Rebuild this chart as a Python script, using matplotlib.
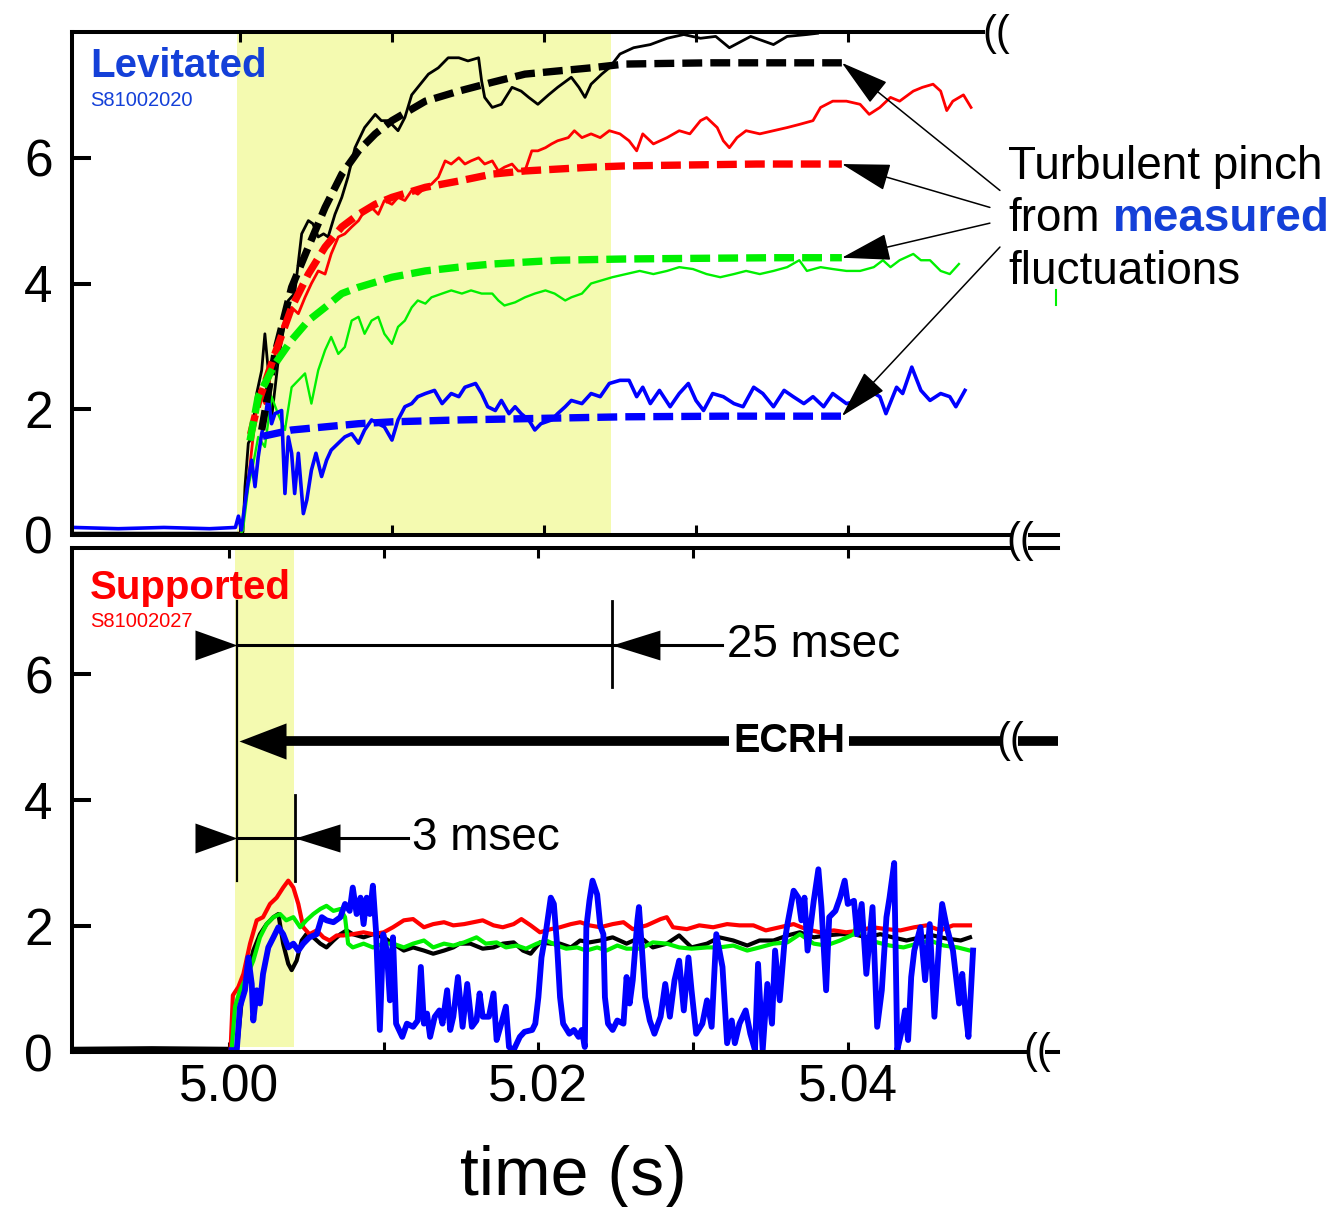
import numpy as np
import matplotlib
matplotlib.use('Agg')
import matplotlib.pyplot as plt
from matplotlib.lines import Line2D
from matplotlib.patches import Rectangle

plt.rcParams['font.family'] = 'Liberation Sans'

# ---- data (time in ms after 5.000 s, signal value) ----
# Levitated shot S81002020 (top panel), solid = measured, dashed = pinch model
lev_black = [(-10.9, 0.03), (-5, 0.03), (0.0, 0.03), (0.2, 0.05), (0.33, 0.77), (0.55, 1.46), (0.77, 1.56),
             (1.1, 2.25), (1.43, 2.62), (1.64, 3.2), (1.86, 2.62), (2.1, 1.9), (2.52, 2.78), (2.96, 3.41),
             (3.18, 3.73), (3.6, 3.84), (4.06, 4.79), (4.5, 5.0), (4.8, 4.95), (5.15, 4.74), (5.5, 4.79),
             (5.8, 4.74), (6.25, 5.1), (6.7, 5.37), (7.1, 5.69), (7.57, 6.16), (8.2, 6.48), (8.9, 6.69),
             (9.3, 6.59), (9.76, 6.59), (10.4, 6.43), (10.85, 6.64), (11.3, 7.0), (11.7, 7.12), (12.4, 7.33),
             (13.05, 7.43), (13.7, 7.59), (14.4, 7.59), (15.0, 7.54), (15.7, 7.59), (15.9, 7.22), (16.1, 6.96),
             (16.6, 6.8), (17.2, 6.85), (17.9, 7.12), (18.5, 7.06), (19.0, 6.96), (19.6, 6.85), (20.3, 7.0),
             (20.9, 7.12), (21.8, 7.28), (22.3, 7.12), (22.7, 6.96), (23.1, 7.17), (23.8, 7.33), (24.3, 7.43),
             (25.0, 7.65), (25.9, 7.75), (27.0, 7.8), (28.1, 7.9), (29.2, 7.96), (30.3, 7.9), (31.3, 7.93),
             (32.2, 7.75), (33.6, 7.93), (35.1, 7.8), (36.0, 7.93), (37.3, 7.96), (38.0, 7.98)]
lev_red = [(-10.9, 0.0), (-5, 0.01), (0.0, 0.0), (0.1, 0.05), (0.55, 0.87), (0.99, 1.83), (1.3, 2.3), (1.64, 2.09),
           (2.08, 2.62), (2.5, 3.1), (2.96, 3.41), (3.4, 3.62), (3.84, 3.52), (4.28, 3.78), (4.7, 4.0), (5.15, 4.2),
           (5.6, 4.15), (6.0, 4.47), (6.47, 4.74), (6.9, 4.79), (7.35, 4.9), (7.8, 5.0), (8.2, 5.16), (8.66, 5.21),
           (9.1, 5.1), (9.5, 5.32), (10.0, 5.26), (10.4, 5.37), (10.85, 5.32), (11.3, 5.48), (11.7, 5.42),
           (12.2, 5.53), (12.6, 5.58), (13.05, 5.69), (13.5, 5.95), (13.9, 5.9), (14.4, 6.0), (14.8, 5.9),
           (15.2, 5.95), (15.7, 6.0), (16.1, 5.9), (16.6, 5.95), (17.0, 5.79), (17.4, 5.85), (17.9, 5.9),
           (18.3, 5.79), (18.75, 5.79), (19.2, 6.11), (19.6, 6.11), (20.1, 6.16), (20.5, 6.22), (20.9, 6.27),
           (21.6, 6.32), (22.0, 6.43), (22.5, 6.32), (23.1, 6.38), (23.7, 6.32), (24.3, 6.43), (25.0, 6.38),
           (25.6, 6.27), (26.1, 6.11), (26.5, 6.38), (27.2, 6.22), (28.1, 6.32), (28.9, 6.43), (29.6, 6.38),
           (30.3, 6.59), (30.7, 6.64), (31.4, 6.48), (31.8, 6.27), (32.2, 6.16), (32.7, 6.32), (33.3, 6.43),
           (34.2, 6.38), (35.1, 6.43), (36.0, 6.48), (36.8, 6.53), (37.7, 6.59), (38.2, 6.8), (39.0, 6.9),
           (39.9, 6.9), (40.8, 6.85), (41.4, 6.69), (42.1, 6.8), (42.8, 6.96), (43.4, 6.9), (44.3, 7.06),
           (44.9, 7.12), (45.6, 7.17), (46.1, 7.06), (46.5, 6.75), (46.9, 6.9), (47.6, 7.0), (48.1, 6.8)]
lev_green = [(-10.9, 0.0), (0.0, 0.0), (0.2, 0.08), (0.55, 0.77), (0.88, 1.14), (1.2, 1.56), (1.64, 1.4),
             (2.08, 2.2), (2.5, 1.93), (2.96, 1.67), (3.4, 2.35), (3.84, 2.46), (4.28, 2.57), (4.7, 2.09),
             (5.15, 2.62), (5.6, 2.94), (6.0, 3.15), (6.47, 2.88), (6.9, 2.99), (7.35, 3.41), (7.8, 3.47),
             (8.2, 3.2), (8.66, 3.41), (9.1, 3.47), (9.5, 3.2), (10.0, 3.04), (10.4, 3.31), (10.85, 3.41),
             (11.3, 3.62), (11.7, 3.73), (12.2, 3.68), (12.6, 3.78), (13.3, 3.84), (13.9, 3.89), (14.6, 3.84),
             (15.2, 3.89), (15.9, 3.84), (16.6, 3.84), (17.0, 3.73), (17.4, 3.65), (18.1, 3.7), (18.75, 3.78),
             (19.4, 3.84), (20.1, 3.89), (20.7, 3.84), (21.4, 3.73), (21.8, 3.78), (22.5, 3.84), (23.1, 4.0),
             (23.8, 4.05), (24.5, 4.1), (25.4, 4.15), (26.3, 4.2), (27.2, 4.15), (28.1, 4.2), (28.9, 4.26),
             (29.8, 4.23), (30.7, 4.15), (31.6, 4.1), (32.5, 4.15), (33.3, 4.2), (34.2, 4.15), (35.1, 4.2),
             (36.0, 4.26), (36.8, 4.37), (37.3, 4.2), (38.2, 4.26), (39.0, 4.23), (39.9, 4.2), (40.8, 4.2),
             (41.7, 4.26), (42.3, 4.37), (42.8, 4.26), (43.4, 4.37), (44.3, 4.47), (44.8, 4.37), (45.4, 4.37),
             (46.1, 4.2), (46.7, 4.15), (47.3, 4.31)]
lev_blue = [(-10.9, 0.12), (-8, 0.1), (-5, 0.12), (-2, 0.1), (-0.3, 0.12), (-0.1, 0.3), (0.1, 0.08), (0.33, 0.5),
            (0.55, 0.87), (0.77, 1.19), (0.99, 0.77), (1.2, 1.24), (1.43, 1.61), (1.64, 1.83), (1.86, 2.2),
            (2.08, 1.77), (2.3, 1.93), (2.74, 1.98), (2.96, 0.66), (3.18, 1.56), (3.4, 1.3), (3.6, 0.66),
            (3.84, 1.3), (4.17, 0.34), (4.4, 0.56), (4.7, 1.03), (5.0, 1.3), (5.37, 0.93), (5.7, 1.19),
            (6.0, 1.35), (6.47, 1.46), (6.9, 1.56), (7.35, 1.61), (7.8, 1.46), (8.2, 1.67), (8.66, 1.83),
            (9.1, 1.77), (9.5, 1.72), (10.0, 1.51), (10.4, 1.83), (10.85, 2.04), (11.3, 2.09), (11.7, 2.2),
            (12.2, 2.25), (12.8, 2.3), (13.3, 2.09), (13.9, 2.25), (14.4, 2.2), (14.8, 2.35), (15.5, 2.41),
            (15.9, 2.25), (16.3, 2.04), (16.8, 1.98), (17.2, 2.14), (17.7, 1.93), (18.1, 2.04), (18.5, 1.93),
            (19.0, 1.83), (19.4, 1.67), (19.8, 1.77), (20.5, 1.83), (20.9, 1.93), (21.4, 2.04), (21.8, 2.14),
            (22.5, 2.09), (23.1, 2.25), (23.7, 2.2), (24.3, 2.41), (25.0, 2.46), (25.6, 2.46), (26.1, 2.2),
            (26.5, 2.35), (27.0, 2.09), (27.6, 2.3), (28.3, 2.04), (28.9, 2.25), (29.5, 2.41), (30.0, 2.14),
            (30.5, 1.98), (31.1, 2.25), (31.8, 2.2), (32.5, 2.09), (33.1, 2.04), (33.8, 2.35), (34.4, 2.25),
            (35.1, 2.04), (35.8, 2.3), (36.4, 2.2), (37.1, 2.09), (37.7, 2.2), (38.4, 2.04), (39.0, 2.25),
            (39.9, 2.09), (40.8, 2.14), (41.4, 2.3), (42.1, 2.2), (42.5, 1.93), (43.2, 2.35), (43.6, 2.25),
            (44.2, 2.67), (44.8, 2.3), (45.4, 2.14), (46.1, 2.25), (46.7, 2.2), (47.1, 2.04), (47.7, 2.3)]

fit_black = [(1.43, 1.67), (2.3, 2.88), (3.4, 3.94), (4.5, 4.58), (5.6, 5.21), (6.7, 5.74), (7.8, 6.11),
             (8.9, 6.38), (10.0, 6.59), (12.2, 6.9), (14.4, 7.06), (16.6, 7.2), (18.75, 7.33), (20.9, 7.38),
             (23.1, 7.43), (25.3, 7.49), (28.0, 7.5), (31.0, 7.51), (34.0, 7.51), (37.0, 7.51), (39.6, 7.51)]
fit_red = [(0.7, 1.6), (1.2, 2.1), (2.3, 2.88), (3.4, 3.62), (4.5, 4.15), (5.6, 4.58), (6.7, 4.9), (7.8, 5.1),
           (8.9, 5.26), (10.0, 5.37), (12.2, 5.53), (14.4, 5.63), (16.6, 5.74), (18.75, 5.79), (20.9, 5.82),
           (23.1, 5.85), (25.3, 5.87), (28.0, 5.88), (31.0, 5.89), (34.0, 5.9), (37.0, 5.9), (39.6, 5.9)]
fit_green = [(0.66, 1.5), (1.2, 2.2), (2.3, 2.72), (3.4, 3.1), (4.5, 3.41), (5.6, 3.62), (6.7, 3.84),
             (7.8, 3.94), (10.0, 4.1), (12.2, 4.2), (14.4, 4.26), (16.6, 4.31), (18.75, 4.34), (20.9, 4.37),
             (25.3, 4.39), (30.0, 4.4), (35.0, 4.41), (39.6, 4.41)]
fit_blue = [(1.5, 1.57), (3.4, 1.67), (5.6, 1.72), (7.8, 1.77), (10.0, 1.8), (14.4, 1.83), (18.75, 1.85),
            (25.3, 1.88), (32.0, 1.89), (39.6, 1.89)]

# Supported shot S81002027 (bottom panel)
sup_black = [(-10.2, 0.05), (-5, 0.06), (0.0, 0.05), (0.17, 0.03), (0.5, 0.0), (0.82, 0.82), (1.14, 1.19),
             (1.57, 1.61), (2.0, 1.87), (2.43, 2.03), (2.87, 2.14), (3.19, 2.19), (3.5, 1.72), (3.83, 1.4),
             (4.05, 1.3), (4.37, 1.45), (4.7, 1.77), (5.0, 1.87), (5.45, 1.82), (5.9, 1.72), (6.3, 1.66),
             (6.75, 1.77), (7.2, 1.87), (7.6, 1.93), (8.0, 1.87), (8.7, 1.82), (9.3, 1.87), (10.0, 1.82),
             (10.6, 1.72), (11.3, 1.61), (11.9, 1.66), (12.6, 1.61), (13.2, 1.56), (13.9, 1.61), (14.5, 1.66),
             (14.9, 1.72), (15.6, 1.72), (16.4, 1.64), (17.1, 1.66), (17.7, 1.72), (18.4, 1.74), (19.0, 1.61),
             (19.5, 1.56), (20.1, 1.74), (20.8, 1.72), (21.4, 1.72), (22.1, 1.66), (22.7, 1.77), (23.3, 1.74),
             (24.0, 1.77), (24.8, 1.82), (25.7, 1.72), (26.6, 1.82), (27.4, 1.66), (28.3, 1.72), (29.1, 1.85),
             (29.9, 1.66), (30.9, 1.72), (31.7, 1.82), (32.6, 1.77), (33.5, 1.69), (34.3, 1.77), (35.2, 1.77),
             (36.1, 1.85), (36.9, 1.9), (37.8, 1.82), (38.6, 1.85), (39.5, 1.87), (40.4, 1.87), (41.2, 1.82),
             (42.1, 1.87), (42.9, 1.82), (43.8, 1.77), (44.7, 1.82), (45.5, 1.85), (46.4, 1.8), (47.3, 1.77),
             (47.9, 1.82)]
sup_red = [(0.1, 0.02), (0.25, 0.9), (0.6, 1.03), (0.93, 1.24), (1.36, 1.72), (1.79, 2.09), (2.2, 2.14),
           (2.65, 2.35), (3.08, 2.45), (3.5, 2.61), (3.83, 2.72), (4.16, 2.61), (4.48, 2.35), (4.8, 1.98),
           (5.2, 1.87), (5.67, 1.93), (6.1, 1.82), (6.5, 1.77), (6.96, 1.85), (7.4, 1.85), (8.0, 1.87),
           (8.7, 1.9), (9.3, 1.87), (10.0, 1.9), (10.6, 1.98), (11.3, 2.09), (11.9, 2.11), (12.6, 1.98),
           (13.2, 2.03), (13.9, 2.06), (14.5, 2.01), (15.2, 2.03), (15.8, 2.06), (16.4, 2.09), (17.1, 2.01),
           (17.7, 1.98), (18.4, 2.03), (18.9, 2.11), (19.5, 2.01), (20.1, 1.9), (20.8, 1.95), (21.4, 1.98),
           (22.1, 2.03), (22.7, 2.06), (23.3, 2.01), (24.0, 1.98), (24.8, 2.03), (25.5, 2.06), (26.1, 1.95),
           (27.0, 2.01), (27.9, 2.11), (28.3, 2.14), (28.7, 1.98), (29.6, 1.95), (30.4, 2.01), (31.3, 1.98),
           (32.2, 2.03), (33.0, 2.01), (33.9, 2.01), (34.7, 1.93), (35.6, 1.98), (36.5, 2.03), (37.3, 1.95),
           (38.2, 1.9), (39.1, 1.93), (39.9, 1.9), (40.8, 1.93), (41.6, 1.98), (42.5, 1.95), (43.4, 1.93),
           (44.3, 1.98), (45.1, 2.01), (46.0, 1.93), (46.8, 2.01), (47.9, 2.01)]
sup_green = [(0.17, 0.03), (0.39, 0.72), (0.71, 0.98), (1.14, 1.19), (1.57, 1.45), (2.0, 1.82), (2.43, 2.03),
             (2.87, 2.14), (3.3, 2.19), (3.7, 2.09), (4.16, 2.14), (4.6, 1.98), (5.0, 2.09), (5.45, 2.19),
             (5.9, 2.27), (6.3, 2.32), (6.75, 2.24), (7.2, 2.27), (7.5, 2.14), (7.7, 1.72), (8.0, 1.66),
             (8.7, 1.72), (9.3, 1.66), (10.0, 1.72), (10.6, 1.72), (11.3, 1.66), (11.9, 1.72), (12.6, 1.77),
             (13.2, 1.66), (13.9, 1.72), (14.5, 1.69), (15.2, 1.74), (16.0, 1.82), (16.6, 1.72), (17.3, 1.74),
             (17.9, 1.66), (18.6, 1.69), (19.2, 1.64), (19.9, 1.72), (20.5, 1.77), (21.2, 1.69), (21.8, 1.64),
             (22.5, 1.66), (23.1, 1.61), (23.8, 1.66), (24.4, 1.61), (25.1, 1.69), (25.7, 1.64), (26.6, 1.64),
             (27.4, 1.74), (28.3, 1.72), (29.1, 1.66), (29.9, 1.64), (30.9, 1.66), (31.7, 1.66), (32.6, 1.69),
             (33.5, 1.61), (34.3, 1.66), (35.2, 1.72), (36.1, 1.74), (36.9, 1.87), (37.8, 1.72), (38.6, 1.69),
             (39.5, 1.77), (40.4, 1.87), (40.7, 2.14), (41.0, 1.82), (41.9, 1.74), (42.7, 1.69), (43.6, 1.66),
             (44.5, 1.72), (45.3, 1.77), (46.2, 1.69), (47.1, 1.66), (47.9, 1.61)]
sup_blue = [(0.17, 0.03), (0.5, 0.03), (0.71, 0.72), (1.03, 0.98), (1.25, 1.5), (1.47, 1.08), (1.57, 0.5),
            (1.79, 0.98), (2.0, 0.77), (2.2, 1.24), (2.54, 1.66), (2.87, 1.82), (3.19, 1.98), (3.5, 1.87),
            (3.83, 1.66), (4.16, 1.72), (4.48, 1.61), (4.8, 1.72), (5.2, 1.82), (5.67, 1.87), (6.0, 2.14),
            (6.3, 2.09), (6.75, 2.06), (7.2, 2.14), (7.5, 2.35), (7.8, 2.24), (8.0, 2.61), (8.25, 2.19),
            (8.5, 2.45), (8.7, 2.03), (8.9, 2.45), (9.1, 2.19), (9.3, 2.64), (9.5, 1.93), (9.75, 0.35),
            (9.97, 1.87), (10.2, 1.61), (10.4, 0.82), (10.6, 1.82), (10.8, 0.45), (11.2, 0.24), (11.5, 0.45),
            (11.9, 0.4), (12.2, 0.5), (12.4, 1.35), (12.6, 0.45), (12.8, 0.61), (13.0, 0.24), (13.3, 0.56),
            (13.6, 0.66), (13.8, 0.45), (14.1, 0.98), (14.3, 0.35), (14.5, 0.56), (14.8, 1.19), (15.1, 0.4),
            (15.4, 1.08), (15.7, 0.4), (16.0, 0.5), (16.2, 0.93), (16.4, 0.56), (16.8, 0.56), (17.1, 0.93),
            (17.3, 0.19), (17.6, 0.45), (17.9, 0.72), (18.1, 0.08), (18.4, 0.03), (18.8, 0.24), (19.1, 0.32),
            (19.6, 0.35), (19.8, 0.45), (20.0, 0.87), (20.2, 1.5), (20.5, 1.93), (20.8, 2.45), (21.0, 2.35),
            (21.2, 1.72), (21.4, 0.87), (21.6, 0.45), (22.0, 0.29), (22.3, 0.35), (22.6, 0.24), (22.8, 0.35),
            (23.0, 0.08), (23.1, 1.98), (23.3, 2.4), (23.5, 2.72), (23.8, 2.5), (24.0, 2.0), (24.2, 1.87),
            (24.3, 0.87), (24.5, 0.45), (24.8, 0.35), (25.1, 0.5), (25.5, 0.45), (25.7, 1.19), (25.9, 0.77),
            (26.1, 1.14), (26.4, 2.09), (26.5, 2.3), (26.7, 1.61), (26.9, 0.87), (27.2, 0.5), (27.5, 0.29),
            (27.9, 0.56), (28.2, 1.08), (28.5, 0.56), (28.8, 1.14), (29.1, 1.45), (29.4, 0.66), (29.7, 1.5),
            (29.9, 0.98), (30.2, 0.29), (30.6, 0.45), (30.9, 0.82), (31.2, 0.4), (31.5, 1.87), (31.9, 1.35),
            (32.2, 0.14), (32.5, 0.5), (32.7, 0.14), (33.0, 0.45), (33.4, 0.66), (33.7, 0.29), (34.0, 0.03),
            (34.2, 1.4), (34.5, 0.03), (34.8, 1.08), (35.1, 0.45), (35.3, 1.61), (35.6, 0.82), (35.9, 1.72),
            (36.1, 2.03), (36.5, 2.56), (36.8, 2.45), (37.0, 2.09), (37.2, 2.45), (37.4, 1.61), (37.8, 2.4),
            (38.1, 2.9), (38.3, 2.3), (38.6, 0.98), (38.8, 2.14), (39.2, 2.24), (39.5, 2.45), (39.8, 2.72),
            (40.0, 2.35), (40.4, 2.4), (40.6, 1.87), (40.9, 2.35), (41.2, 1.24), (41.6, 2.3), (41.9, 0.4),
            (42.2, 0.98), (42.5, 2.14), (42.7, 2.45), (43.0, 3.0), (43.2, 0.03), (43.5, 0.35), (43.7, 0.66),
            (43.9, 0.19), (44.1, 1.19), (44.3, 1.61), (44.7, 1.98), (45.0, 1.14), (45.3, 2.03), (45.6, 0.56),
            (45.9, 1.72), (46.1, 2.35), (46.4, 1.98), (46.8, 1.61), (47.2, 0.77), (47.4, 1.24), (47.6, 0.66),
            (47.8, 0.24), (48.1, 1.61)]

# ECRH / timing markers (bottom panel, ms after 5.000 s)
ecrh_on = 0.52
t_3ms = 4.27
t_25ms = 24.76

# ---- figure ----
W, H = 1329, 1207
fig = plt.figure(figsize=(W / 100, H / 100), dpi=100)


def fx(px):
    return px / W


def fy(py):
    return 1 - py / H


def ms(series):
    a = np.array(series)
    return 5.0 + a[:, 0] * 1e-3, a[:, 1]


ax1 = fig.add_axes([fx(72), fy(535), (1058 - 72) / W, (535 - 32) / H])
ax2 = fig.add_axes([fx(72), fy(1052), (1058 - 72) / W, (1052 - 548) / H])
ax1.set_xlim(4.98895, 5.05382)
ax2.set_xlim(4.98985, 5.05359)

yellow = '#f4fab0'
ax1.axvspan(4.9998, 5.0244, color=yellow, lw=0, zorder=0)
ax2.axvspan(5.0004, 5.0042, ymin=0.01, color=yellow, lw=0, zorder=0)

K, R, G, B = '#000000', '#ff0000', '#00f000', '#0000ff'

# top: measured traces
for ser, c, lw in [(lev_black, K, 2.0), (lev_red, R, 2.0), (lev_green, G, 1.7), (lev_blue, B, 2.6)]:
    t, v = ms(ser)
    ax1.plot(t, v, color=c, lw=lw, zorder=2)

# top: model curves (dashed)
for ser, c in [(fit_black, K), (fit_red, R), (fit_green, G), (fit_blue, B)]:
    t, v = ms(ser)
    ax1.plot(t, v, color=c, lw=5.3, ls=(0, (2.7, 1.1)), zorder=3)

# bottom traces
for ser, c, lw in [(sup_black, K, 3.0), (sup_red, R, 3.0), (sup_green, G, 3.0), (sup_blue, B, 4.2)]:
    t, v = ms(ser)
    ax2.plot(t, v, color=c, lw=lw, zorder=2)

# axes styling
for ax in (ax1, ax2):
    ax.set_ylim(0, 8)
    ax.spines['right'].set_visible(False)
    for s in ('left', 'top', 'bottom'):
        ax.spines[s].set_linewidth(2.9)
    ax.set_yticks([0, 2, 4, 6])
    ax.tick_params(axis='y', direction='in', length=14, width=2.9, labelsize=37, pad=14)
    ax.set_xticks([5.00, 5.02, 5.04])
    ax.set_xticks([5.01, 5.03], minor=True)
    ax.tick_params(axis='x', which='both', direction='in', length=7, width=2.2, top=True, bottom=True,
                   labelsize=37, pad=8)
ax1.tick_params(axis='x', labelbottom=False)
ax2.set_xticklabels(['5.00', '5.02', '5.04'])
ax1.spines['top'].set_bounds(4.98895, 5.0489)

# arrows from the annotation to the end of each model curve
arrow_src = [(5.0500, 5.48), (5.04934, 5.21), (5.04934, 4.96), (5.0500, 4.58)]
for ser, src in zip([fit_black, fit_red, fit_green, fit_blue], arrow_src):
    t, v = ms(ser)
    ax1.annotate('', xy=(t[-1], v[-1]), xytext=src, annotation_clip=False,
                 arrowprops=dict(arrowstyle='-|>,head_length=3.1,head_width=0.86', mutation_scale=10,
                                 lw=1.1, color='k', shrinkA=0, shrinkB=0))

# timing markers in the bottom panel
t_on, t3, t25 = 5.0 + ecrh_on * 1e-3, 5.0 + t_3ms * 1e-3, 5.0 + t_25ms * 1e-3
y25, yE, y3 = 6.46, 4.94, 3.40
tri_r = [(0, 0), (-1.4, 0.5), (-1.4, -0.5), (0, 0)]
tri_l = [(0, 0), (1.6, 0.5), (1.6, -0.5), (0, 0)]
tri_e = [(0, 0), (1.3, 0.5), (1.3, -0.5), (0, 0)]
ax2.plot([t_on, t_on], [2.71, 7.16], color='k', lw=1.6)
ax2.plot([t25, t25], [5.79, 7.16], color='k', lw=2.0)
ax2.plot([t3, t3], [2.71, 4.08], color='k', lw=2.0)
ax2.plot([t_on, 5.03187], [y25, y25], color='k', lw=2.2)
ax2.plot([t_on, 5.01157], [y3, y3], color='k', lw=2.2)
ax2.plot(t_on, y25, marker=tri_r, ms=60.5, color='k', mew=0)
ax2.plot(t25, y25, marker=tri_l, ms=69, color='k', mew=0)
ax2.plot(t_on, y3, marker=tri_r, ms=60.5, color='k', mew=0)
ax2.plot(t3, y3, marker=tri_l, ms=64.8, color='k', mew=0)
ax2.plot([t_on + 0.0015, 5.0536], [yE, yE], color='k', lw=7, solid_capstyle='butt', clip_on=False)
ax2.plot(t_on + 0.00013, yE, marker=tri_e, ms=67.7, color='k', mew=0)
ax2.text(5.0322, y25, '25 msec', fontsize=33, va='center', ha='left')
ax2.text(5.01183, y3, '3 msec', fontsize=33, va='center', ha='left')
ax2.text(5.0362, yE, 'ECRH', fontsize=28.5, fontweight='bold', va='center', ha='center',
         bbox=dict(facecolor='white', edgecolor='none', pad=3))

# panel labels
fig.text(fx(90), fy(77), 'Levitated', color='#1440d8', fontsize=29, fontweight='bold', va='baseline')
fig.text(fx(90), fy(106), 'S81002020', color='#1440d8', fontsize=14.5, va='baseline')
fig.text(fx(90), fy(599), 'Supported', color='#ff0000', fontsize=29, fontweight='bold', va='baseline')
fig.text(fx(90), fy(627), 'S81002027', color='#ff0000', fontsize=14.5, va='baseline')

# annotation text
fig.text(fx(1008), fy(179), 'Turbulent pinch', fontsize=33, va='baseline')
fig.text(fx(1008), fy(231), 'from', fontsize=33, va='baseline')
fig.text(fx(1113), fy(231), 'measured', fontsize=33, va='baseline', color='#1440d8', fontweight='bold')
fig.text(fx(1008), fy(284), 'fluctuations', fontsize=33, va='baseline')
fig.add_artist(Line2D([fx(1056), fx(1056)], [fy(290), fy(305)], color=G, lw=1.5))

fig.text(fx(573), fy(1195), 'time (s)', fontsize=49, ha='center', va='baseline')


# axis-break marks
def brk(xp, yp, cover=True):
    if cover:
        fig.add_artist(Rectangle((fx(xp - 8), fy(yp + 12)), 16 / W, 24 / H, transform=fig.transFigure,
                                 facecolor='white', edgecolor='none', zorder=10))
    fig.text(fx(xp), fy(yp), '((', fontsize=30, ha='center', va='center', zorder=11)


brk(996, 34, cover=False)
brk(1020, 541)
brk(1010, 741)
brk(1037, 1052)

fig.savefig('out.png', dpi=100)
